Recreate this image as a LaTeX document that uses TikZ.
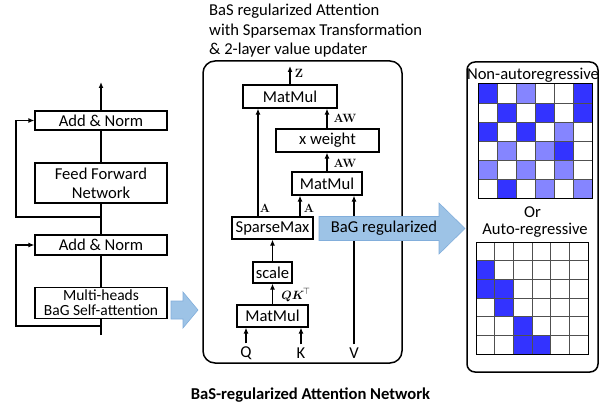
\documentclass[tikz,border=0pt]{standalone}
\usepackage{amsmath}
\usepackage[no-math]{fontspec}
\setmainfont{Carlito}
\usetikzlibrary{arrows.meta}
\definecolor{arrowblue}{HTML}{9DC3E6}
\definecolor{arrowedge}{HTML}{82AEDB}
\definecolor{D}{HTML}{3333FF}
\definecolor{L}{HTML}{8585FF}
\definecolor{W}{HTML}{FFFFFF}
\definecolor{gridgray}{HTML}{505050}
\begin{document}
\begin{tikzpicture}[x=1pt,y=-1pt,
  txt/.style={font=\fontsize{16.6}{19}\selectfont},
  lbox/.style={draw, line width=1.2pt, inner sep=0pt, txt, align=center, minimum width=132pt},
  mbox/.style={draw, line width=1.2pt, inner sep=0pt, txt, minimum height=23pt},
  arr/.style={line width=1.2pt, -{Latex[length=6pt,width=5pt]}},
  ln/.style={line width=1.2pt},
  mlab/.style={inner sep=0pt, font=\fontsize{12.5}{12.5}\selectfont},
  slab/.style={inner sep=0pt, font=\fontsize{11.5}{11.5}\selectfont},
  bigarrow/.style={fill=arrowblue, draw=arrowedge, line width=0.6pt},
  frame/.style={draw, line width=1.5pt, rounded corners=12pt},
  inp/.style={inner sep=3pt, txt},
  gline/.style={gridgray, line width=1pt}
]
\useasboundingbox (0,0) rectangle (616,412);

% ---------- left column ----------
\node[lbox, minimum height=19pt] (an2) at (101,120.5) {Add \& Norm};
\node[lbox, minimum height=40pt] (ffn) at (101,183) {Feed Forward\\Network};
\node[lbox, minimum height=20pt] (an1) at (101,245) {Add \& Norm};
\node[lbox, minimum height=31pt, font=\fontsize{15.5}{15}\selectfont] (mh) at (101,303) {Multi-heads\\BaG Self-attention};
\coordinate (bot) at (101,335);
\coordinate (top) at (101,82);
\coordinate (r1) at (101,326);
\coordinate (r1l) at (16,326);
\coordinate (r2) at (101,217);
\coordinate (r2l) at (16,217);
\draw[ln] (bot) -- (mh.south);
\draw[ln] (mh.north) -- (an1.south);
\draw[ln] (an1.north) -- (ffn.south);
\draw[ln] (ffn.north) -- (an2.south);
\draw[arr] (an2.north) -- (top);
\draw[arr] (r1) -- (r1l) |- (an1.west);
\draw[arr] (r2) -- (r2l) |- (an2.west);

% small block arrow
\draw[bigarrow] (171,301) -- (183,301) -- (183,292) -- (198,310) -- (183,328) -- (183,319) -- (171,319) -- cycle;

% ---------- middle ----------
\node[anchor=base west, inner sep=0pt, txt] (t1) at (209,16) {BaS regularized Attention};
\node[anchor=base west, inner sep=0pt, txt] (t2) at (209,35.5) {with Sparsemax Transformation};
\node[anchor=base west, inner sep=0pt, txt] (t3) at (209,55) {\& 2-layer value updater};

\draw[frame] (203,61) rectangle (402,363);

\node[mbox, minimum width=94pt] (mm3) at (290,96.5) {MatMul};
\node[mbox, minimum width=103pt] (xw) at (327.5,140.5) {x weight};
\node[mbox, minimum width=70pt] (mm2) at (327,183.5) {MatMul};
\node[mbox, minimum width=81pt, minimum height=22pt] (sm) at (272.5,228) {SparseMax};
\node[mbox, minimum width=39pt, minimum height=21pt] (sc) at (272.5,272.5) {scale};
\node[mbox, minimum width=71pt, minimum height=22pt] (mm1) at (272.5,316) {MatMul};

\node[inp] (Q) at (246,353) {Q};
\node[inp] (K) at (301,353) {K};
\node[inp] (V) at (354,353) {V};

\coordinate (zt) at (290,66);
\coordinate (xA) at (258,0);
\coordinate (xB) at (300,0);

\draw[arr] (Q.north) -- (Q.north |- mm1.south);
\draw[arr] (K.north) -- (K.north |- mm1.south);
\draw[arr] (mm1.north) -- (sc.south);
\draw[arr] (sc.north) -- (sm.south);
\draw[arr] (sm.north -| xA) -- (mm3.south -| xA);
\draw[arr] (sm.north -| xB) -- (mm2.south -| xB);
\draw[arr] (mm2.north) -- (mm2.north |- xw.south);
\draw[arr] (mm2.north |- xw.north) -- (mm2.north |- mm3.south);
\draw[arr] (mm3.north) -- (zt);

\node[slab] (lz) at (299,73) {$\mathbf{Z}$};
\node[mlab] (law1) at (345,118) {$\mathbf{AW}$};
\node[mlab] (law2) at (345,163) {$\mathbf{AW}$};
\node[slab] (la1) at (265,208) {$\mathbf{A}$};
\node[slab] (la2) at (309,208) {$\mathbf{A}$};
\node[mlab] (lqk) at (296,295) {$\boldsymbol{QK}^{\!\top}$};

% BaG regularized arrow (over V line and frame)
\draw[arr] (V.north) -- (V.north |- mm2.south);
\draw[bigarrow] (319,216.5) -- (439,216.5) -- (439,203) -- (465,228.5) -- (439,254) -- (439,240.5) -- (319,240.5) -- cycle;
\node[txt, inner sep=0pt] (bag) at (384,228.5) {BaG regularized};

% ---------- right ----------
\draw[frame, rounded corners=8pt] (467,62) rectangle (598,372);
\node[anchor=base, inner sep=0pt, txt] (nar) at (533,79.5) {Non-autoregressive};
\node[anchor=base, inner sep=0pt, txt] (or) at (532.5,217.5) {Or};
\node[anchor=base, inner sep=0pt, txt] (ar) at (535,234.5) {Auto-regressive};

% top grid
\begin{scope}[shift={(478,84)}]
\foreach \r/\row in {0/{D,W,L,W,W,D},1/{W,D,W,D,W,D},2/{D,W,D,W,L,W},3/{W,L,W,L,D,W},4/{L,W,L,W,L,W},5/{W,D,W,L,W,L}}{
  \foreach \c [count=\ci from 0] in \row {
    \fill[\c] (\ci*19,\r*19) rectangle ++(19,19);
  }
}
\foreach \k in {1,...,5}{
  \draw[gline] (\k*19,0) -- (\k*19,114);
  \draw[gline] (0,\k*19) -- (114,\k*19);
}
\draw[black, line width=1pt] (0,0) rectangle (114,114);
\end{scope}

% bottom grid
\begin{scope}[shift={(476,242)}]
\foreach \r/\row in {0/{W,W,W,W,W,W},1/{D,W,W,W,W,W},2/{D,D,W,W,W,W},3/{W,D,W,W,W,W},4/{W,W,D,W,W,W},5/{W,W,D,D,W,W}}{
  \foreach \c [count=\ci from 0] in \row {
    \fill[\c] (\ci*18.67,\r*18.67) rectangle ++(18.67,18.67);
  }
}
\foreach \k in {1,...,5}{
  \draw[gline] (\k*18.67,0) -- (\k*18.67,112);
  \draw[gline] (0,\k*18.67) -- (112,\k*18.67);
}
\draw[black, line width=1pt] (0,0) rectangle (112,112);
\end{scope}

% caption
\node[anchor=base, inner sep=0pt, font=\bfseries\fontsize{16.6}{19}\selectfont] (cap) at (310.5,399) {BaS-regularized Attention Network};
\end{tikzpicture}
\end{document}
